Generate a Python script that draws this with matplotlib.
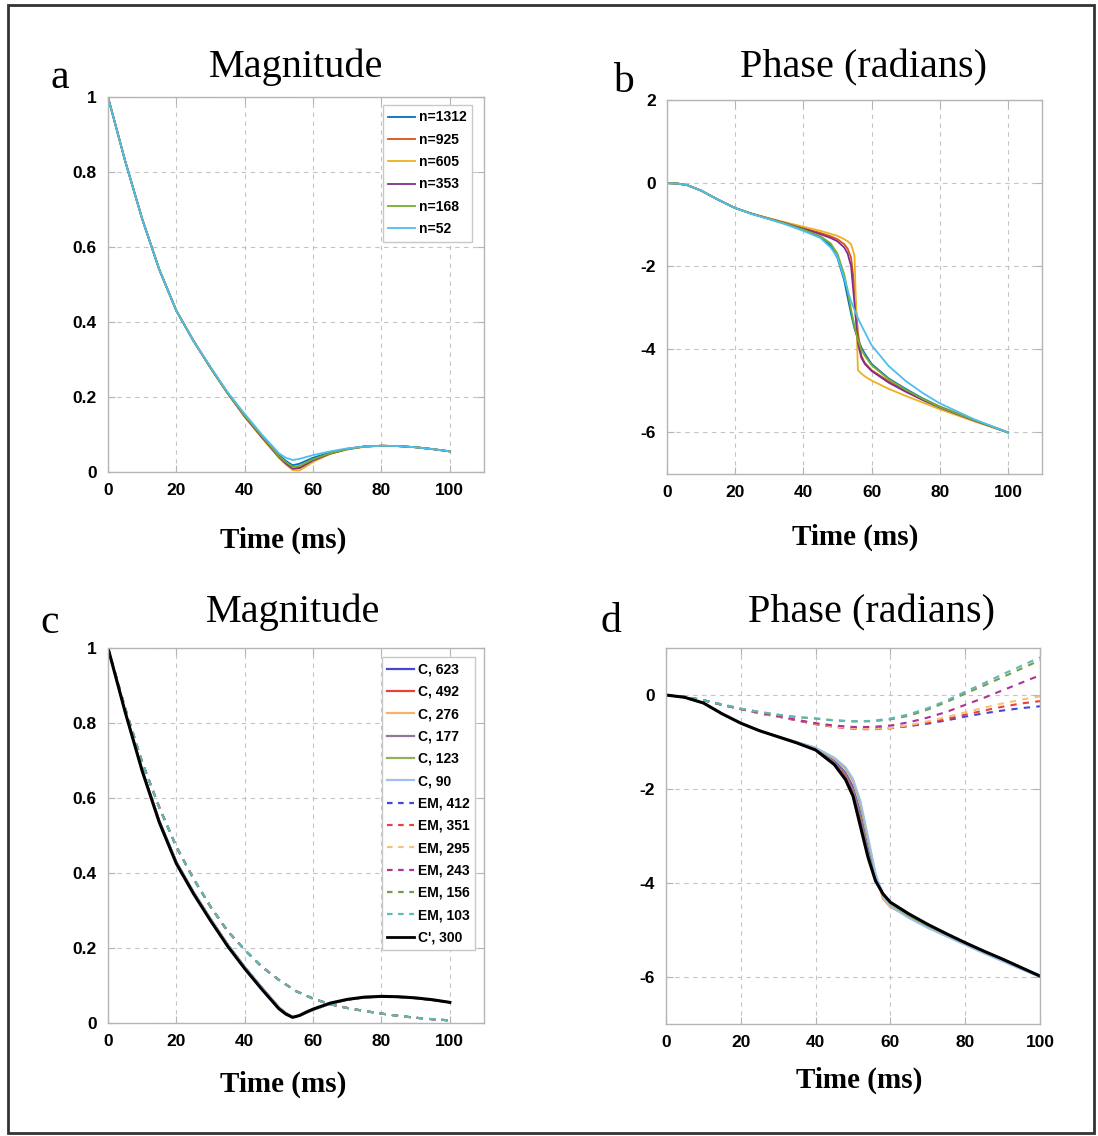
import matplotlib
matplotlib.use("Agg")
import matplotlib.pyplot as plt
from matplotlib.lines import Line2D
from matplotlib.patches import Rectangle

plt.rcParams['axes.unicode_minus'] = False

W, H = 1098, 1136

# ---------------- panel a: magnitude, different n ----------------
t_a = [0, 5, 10, 15, 20, 25, 30, 35, 40, 45, 50, 52, 54, 56, 58, 60, 65, 70, 75, 80, 85, 90, 95, 100]
labels_a = ['n=1312', 'n=925', 'n=605', 'n=353', 'n=168', 'n=52']
colors_a = ['#0072BD', '#D95319', '#EDB120', '#7E2F8E', '#77AC30', '#4DBEEE']
mag_1312 = [1.0, 0.83, 0.675, 0.54, 0.43, 0.35, 0.278, 0.21, 0.15, 0.097, 0.045, 0.03, 0.018, 0.022, 0.03, 0.038, 0.052, 0.062, 0.068, 0.07, 0.069, 0.066, 0.061, 0.055]
mag_925 = [1.0, 0.83, 0.675, 0.54, 0.43, 0.35, 0.278, 0.21, 0.148, 0.093, 0.04, 0.022, 0.008, 0.01, 0.02, 0.03, 0.049, 0.061, 0.068, 0.07, 0.069, 0.066, 0.061, 0.055]
mag_605 = [1.0, 0.83, 0.675, 0.54, 0.43, 0.35, 0.278, 0.21, 0.147, 0.091, 0.038, 0.02, 0.005, 0.004, 0.015, 0.027, 0.048, 0.06, 0.067, 0.07, 0.069, 0.066, 0.061, 0.055]
mag_353 = [1.0, 0.83, 0.675, 0.54, 0.43, 0.35, 0.278, 0.21, 0.148, 0.093, 0.04, 0.023, 0.009, 0.011, 0.021, 0.031, 0.049, 0.061, 0.068, 0.07, 0.069, 0.066, 0.061, 0.055]
mag_168 = [1.0, 0.83, 0.675, 0.54, 0.43, 0.35, 0.278, 0.21, 0.15, 0.096, 0.042, 0.027, 0.014, 0.016, 0.025, 0.034, 0.05, 0.061, 0.068, 0.07, 0.069, 0.066, 0.061, 0.055]
mag_52 = [1.0, 0.83, 0.675, 0.54, 0.43, 0.35, 0.28, 0.213, 0.155, 0.1, 0.05, 0.038, 0.032, 0.035, 0.04, 0.045, 0.055, 0.063, 0.068, 0.07, 0.069, 0.066, 0.061, 0.055]
series_a = [mag_1312, mag_925, mag_605, mag_353, mag_168, mag_52]

# ---------------- panel b: phase, different n ----------------
t_b = [0, 3, 6, 10, 15, 20, 25, 30, 35, 40, 45, 48, 50, 52, 53, 54, 55, 56, 57, 58, 60, 65, 70, 75, 80, 90, 100]
ph_1312 = [0, -0.01, -0.05, -0.18, -0.4, -0.6, -0.74, -0.86, -0.98, -1.13, -1.3, -1.5, -1.8, -2.35, -2.75, -3.15, -3.5, -3.75, -3.95, -4.1, -4.35, -4.7, -4.95, -5.18, -5.38, -5.7, -6.0]
ph_925 = [0, -0.01, -0.05, -0.18, -0.4, -0.6, -0.74, -0.85, -0.96, -1.08, -1.2, -1.28, -1.35, -1.47, -1.58, -1.8, -2.5, -3.6, -4.15, -4.32, -4.5, -4.77, -5.0, -5.2, -5.38, -5.7, -6.0]
ph_605 = [0, -0.01, -0.05, -0.18, -0.4, -0.6, -0.74, -0.85, -0.95, -1.05, -1.15, -1.22, -1.27, -1.35, -1.4, -1.47, -1.75, -4.5, -4.58, -4.65, -4.75, -4.95, -5.12, -5.28, -5.44, -5.73, -6.0]
ph_353 = [0, -0.01, -0.05, -0.18, -0.4, -0.6, -0.74, -0.86, -0.97, -1.1, -1.23, -1.32, -1.4, -1.55, -1.7, -2.0, -2.9, -3.85, -4.2, -4.35, -4.52, -4.8, -5.02, -5.22, -5.4, -5.71, -6.0]
ph_168 = [0, -0.01, -0.05, -0.18, -0.4, -0.6, -0.74, -0.86, -0.98, -1.12, -1.28, -1.45, -1.7, -2.2, -2.6, -3.05, -3.45, -3.78, -4.0, -4.15, -4.38, -4.72, -4.97, -5.19, -5.39, -5.7, -6.0]
ph_52 = [0, -0.01, -0.05, -0.18, -0.4, -0.6, -0.75, -0.87, -1.0, -1.15, -1.32, -1.55, -1.78, -2.3, -2.58, -2.85, -3.05, -3.25, -3.42, -3.58, -3.9, -4.4, -4.76, -5.05, -5.3, -5.68, -6.0]
series_b = [ph_1312, ph_925, ph_605, ph_353, ph_168, ph_52]

# ---------------- panels c/d: C, EM and C' ----------------
labels_c = ['C, 623', 'C, 492', 'C, 276', 'C, 177', 'C, 123', 'C, 90']
colors_c = ['#4646D6', '#E8413C', '#F5B26B', '#8C7A99', '#8DB35A', '#9EC1F0']
labels_em = ['EM, 412', 'EM, 351', 'EM, 295', 'EM, 243', 'EM, 156', 'EM, 103']
colors_em = ['#4646D6', '#E8413C', '#F5C27B', '#B0309A', '#7A9A50', '#5FB8B8']

c_mag = [1.0, 0.83, 0.675, 0.54, 0.43, 0.35, 0.278, 0.21, 0.15, 0.095, 0.042, 0.027, 0.016, 0.019, 0.027, 0.035, 0.051, 0.062, 0.068, 0.07, 0.069, 0.066, 0.061, 0.055]
cprime_mag = [1.0, 0.83, 0.672, 0.535, 0.425, 0.345, 0.273, 0.205, 0.145, 0.09, 0.038, 0.024, 0.015, 0.02, 0.029, 0.037, 0.053, 0.063, 0.069, 0.071, 0.07, 0.067, 0.062, 0.055]

t_em = [0, 5, 10, 15, 20, 25, 30, 35, 40, 45, 50, 55, 60, 65, 70, 75, 80, 85, 90, 95, 100]
em_mag = [1.0, 0.84, 0.695, 0.575, 0.47, 0.385, 0.31, 0.245, 0.195, 0.15, 0.115, 0.085, 0.065, 0.05, 0.04, 0.032, 0.025, 0.019, 0.014, 0.01, 0.007]

t_d = [0, 5, 10, 15, 20, 25, 30, 35, 40, 45, 48, 50, 52, 54, 56, 58, 60, 65, 70, 75, 80, 85, 90, 95, 100]
cph_623 = [0, -0.05, -0.17, -0.4, -0.6, -0.76, -0.89, -1.02, -1.15, -1.4, -1.65, -1.95, -2.5, -3.25, -3.85, -4.22, -4.42, -4.68, -4.9, -5.09, -5.28, -5.45, -5.62, -5.8, -5.98]
cph_492 = [0, -0.05, -0.17, -0.4, -0.6, -0.76, -0.89, -1.02, -1.16, -1.45, -1.72, -2.05, -2.65, -3.35, -3.9, -4.23, -4.42, -4.67, -4.89, -5.08, -5.27, -5.45, -5.62, -5.8, -5.98]
cph_276 = [0, -0.05, -0.17, -0.4, -0.6, -0.76, -0.89, -1.01, -1.13, -1.36, -1.58, -1.85, -2.35, -3.1, -3.8, -4.35, -4.52, -4.72, -4.92, -5.1, -5.28, -5.46, -5.63, -5.8, -5.98]
cph_177 = [0, -0.05, -0.17, -0.4, -0.6, -0.76, -0.89, -1.02, -1.15, -1.42, -1.68, -2.0, -2.55, -3.3, -3.88, -4.22, -4.42, -4.68, -4.9, -5.09, -5.28, -5.45, -5.62, -5.8, -5.98]
cph_123 = [0, -0.05, -0.17, -0.4, -0.6, -0.76, -0.88, -1.0, -1.12, -1.34, -1.55, -1.8, -2.3, -3.05, -3.8, -4.28, -4.48, -4.72, -4.93, -5.12, -5.3, -5.48, -5.65, -5.82, -5.99]
cph_90 = [0, -0.05, -0.17, -0.4, -0.6, -0.76, -0.88, -1.0, -1.12, -1.33, -1.53, -1.78, -2.25, -3.0, -3.78, -4.27, -4.5, -4.75, -4.96, -5.14, -5.32, -5.5, -5.67, -5.84, -6.0]
series_cph = [cph_623, cph_492, cph_276, cph_177, cph_123, cph_90]
cprime_ph = [0, -0.05, -0.17, -0.4, -0.6, -0.76, -0.89, -1.02, -1.17, -1.48, -1.8, -2.15, -2.8, -3.45, -3.95, -4.23, -4.41, -4.66, -4.88, -5.08, -5.27, -5.45, -5.62, -5.8, -5.98]

emph_412 = [0, -0.04, -0.11, -0.21, -0.3, -0.39, -0.46, -0.54, -0.62, -0.67, -0.7, -0.71, -0.7, -0.66, -0.61, -0.54, -0.46, -0.39, -0.33, -0.28, -0.24]
emph_351 = [0, -0.04, -0.11, -0.21, -0.3, -0.39, -0.46, -0.54, -0.62, -0.68, -0.72, -0.73, -0.71, -0.66, -0.59, -0.51, -0.42, -0.33, -0.25, -0.18, -0.13]
emph_295 = [0, -0.04, -0.11, -0.21, -0.3, -0.39, -0.46, -0.53, -0.61, -0.67, -0.71, -0.72, -0.7, -0.64, -0.56, -0.47, -0.37, -0.27, -0.18, -0.1, -0.03]
emph_243 = [0, -0.04, -0.11, -0.21, -0.3, -0.38, -0.45, -0.53, -0.6, -0.65, -0.68, -0.68, -0.65, -0.58, -0.48, -0.36, -0.21, -0.06, 0.1, 0.26, 0.42]
emph_156 = [0, -0.04, -0.11, -0.2, -0.29, -0.36, -0.42, -0.47, -0.5, -0.54, -0.56, -0.56, -0.52, -0.44, -0.31, -0.15, 0.03, 0.2, 0.38, 0.56, 0.74]
emph_103 = [0, -0.04, -0.11, -0.2, -0.29, -0.36, -0.42, -0.47, -0.5, -0.54, -0.56, -0.55, -0.5, -0.41, -0.28, -0.12, 0.07, 0.25, 0.44, 0.62, 0.8]
series_emph = [emph_412, emph_351, emph_295, emph_243, emph_156, emph_103]

xticks = [0, 20, 40, 60, 80, 100]
mag_ticks = [0, 0.2, 0.4, 0.6, 0.8, 1]
mag_ticklabels = ['0', '0.2', '0.4', '0.6', '0.8', '1']

# ---------------- figure ----------------
fig = plt.figure(figsize=(W / 100, H / 100), dpi=100)
fig.add_artist(Rectangle((8 / W, 1 - 1133 / H), 1086 / W, 1128 / H, transform=fig.transFigure,
                         fill=False, edgecolor='#333333', lw=2))

tick_font = {'family': 'Liberation Sans', 'weight': 'bold', 'size': 12.5}


def px_axes(left, top, right, bottom):
    return fig.add_axes([left / W, 1 - bottom / H, (right - left) / W, (bottom - top) / H])


def style(ax):
    for s in ax.spines.values():
        s.set_color('#b5b5b5')
        s.set_linewidth(1.0)
    ax.grid(True, linestyle=(0, (4, 4)), color='#c4c4c4', linewidth=0.8)
    ax.set_axisbelow(True)
    ax.tick_params(direction='in', length=5, color='#b5b5b5', top=True, right=True,
                   pad=8)
    for lab in ax.get_xticklabels() + ax.get_yticklabels():
        lab.set_fontproperties(tick_font)


def fig_text(x, y, s, **kw):
    fig.text(x / W, 1 - y / H, s, va='baseline', **kw)


leg_kw = dict(prop={'family': 'Liberation Sans', 'weight': 'bold', 'size': 10},
              fancybox=False, framealpha=1, edgecolor='#c8c8c8', handlelength=1.9,
              handletextpad=0.3, labelspacing=0.6, borderpad=0.4, borderaxespad=0)

# a
ax_a = px_axes(108, 97, 484, 472)
for vals, lab, col in zip(series_a, labels_a, colors_a):
    ax_a.plot(t_a, vals, color=col, lw=1.3, label=lab)
ax_a.set_xlim(0, 110)
ax_a.set_ylim(0, 1)
ax_a.set_xticks(xticks)
ax_a.set_yticks(mag_ticks)
ax_a.set_yticklabels(mag_ticklabels)
style(ax_a)
ax_a.legend(loc='upper right', bbox_to_anchor=(0.968, 0.979), **leg_kw)

# b
ax_b = px_axes(667, 100, 1042, 474)
for vals, lab, col in zip(series_b, labels_a, colors_a):
    ax_b.plot(t_b, vals, color=col, lw=1.3, label=lab)
ax_b.set_xlim(0, 110)
ax_b.set_ylim(-7, 2)
ax_b.set_xticks(xticks)
ax_b.set_yticks([-6, -4, -2, 0, 2])
style(ax_b)

# c
ax_c = px_axes(108, 648, 484, 1023)
for lab, col in zip(labels_c, colors_c):
    ax_c.plot(t_a, c_mag, color=col, lw=1.3)
for lab, col in zip(labels_em, colors_em):
    ax_c.plot(t_em, em_mag, color=col, lw=1.5, linestyle=(0, (3, 3)))
ax_c.plot(t_a, cprime_mag, color='black', lw=2.2)
ax_c.set_xlim(0, 110)
ax_c.set_ylim(0, 1)
ax_c.set_xticks(xticks)
ax_c.set_yticks(mag_ticks)
ax_c.set_yticklabels(mag_ticklabels)
style(ax_c)
handles = [Line2D([], [], color=c, lw=1.6) for c in colors_c]
handles += [Line2D([], [], color=c, lw=1.6, linestyle=(0, (2.5, 2.5))) for c in colors_em]
handles += [Line2D([], [], color='black', lw=2)]
ax_c.legend(handles, labels_c + labels_em + ["C', 300"], loc='upper right',
            bbox_to_anchor=(0.976, 0.976), **leg_kw)

# d
ax_d = px_axes(666, 648, 1040, 1024)
for vals, col in zip(series_emph, colors_em):
    ax_d.plot(t_em, vals, color=col, lw=1.5, linestyle=(0, (3, 3)))
for vals, col in zip(series_cph, colors_c):
    ax_d.plot(t_d, vals, color=col, lw=1.3)
ax_d.plot(t_d, cprime_ph, color='black', lw=2.2)
ax_d.set_xlim(0, 100)
ax_d.set_ylim(-7, 1)
ax_d.set_xticks(xticks)
ax_d.set_yticks([-6, -4, -2, 0])
style(ax_d)

# titles, panel letters, x labels
title_kw = dict(family='Liberation Serif', size=29, ha='center')
fig_text(296, 77, 'Magnitude', **title_kw)
fig_text(864, 77, 'Phase (radians)', **title_kw)
fig_text(293, 622, 'Magnitude', **title_kw)
fig_text(871, 622, 'Phase (radians)', **title_kw)

letter_kw = dict(family='Liberation Serif', size=30, ha='left')
fig_text(51, 88, 'a', **letter_kw)
fig_text(613, 92, 'b', **letter_kw)
fig_text(40, 633, 'c', **letter_kw)
fig_text(600, 632, 'd', **letter_kw)

xlabel_kw = dict(family='Liberation Serif', size=21, weight='bold', ha='center')
fig_text(283, 548, 'Time (ms)', **xlabel_kw)
fig_text(855, 545, 'Time (ms)', **xlabel_kw)
fig_text(283, 1092, 'Time (ms)', **xlabel_kw)
fig_text(859, 1088, 'Time (ms)', **xlabel_kw)

fig.savefig('out.png', dpi=100)
